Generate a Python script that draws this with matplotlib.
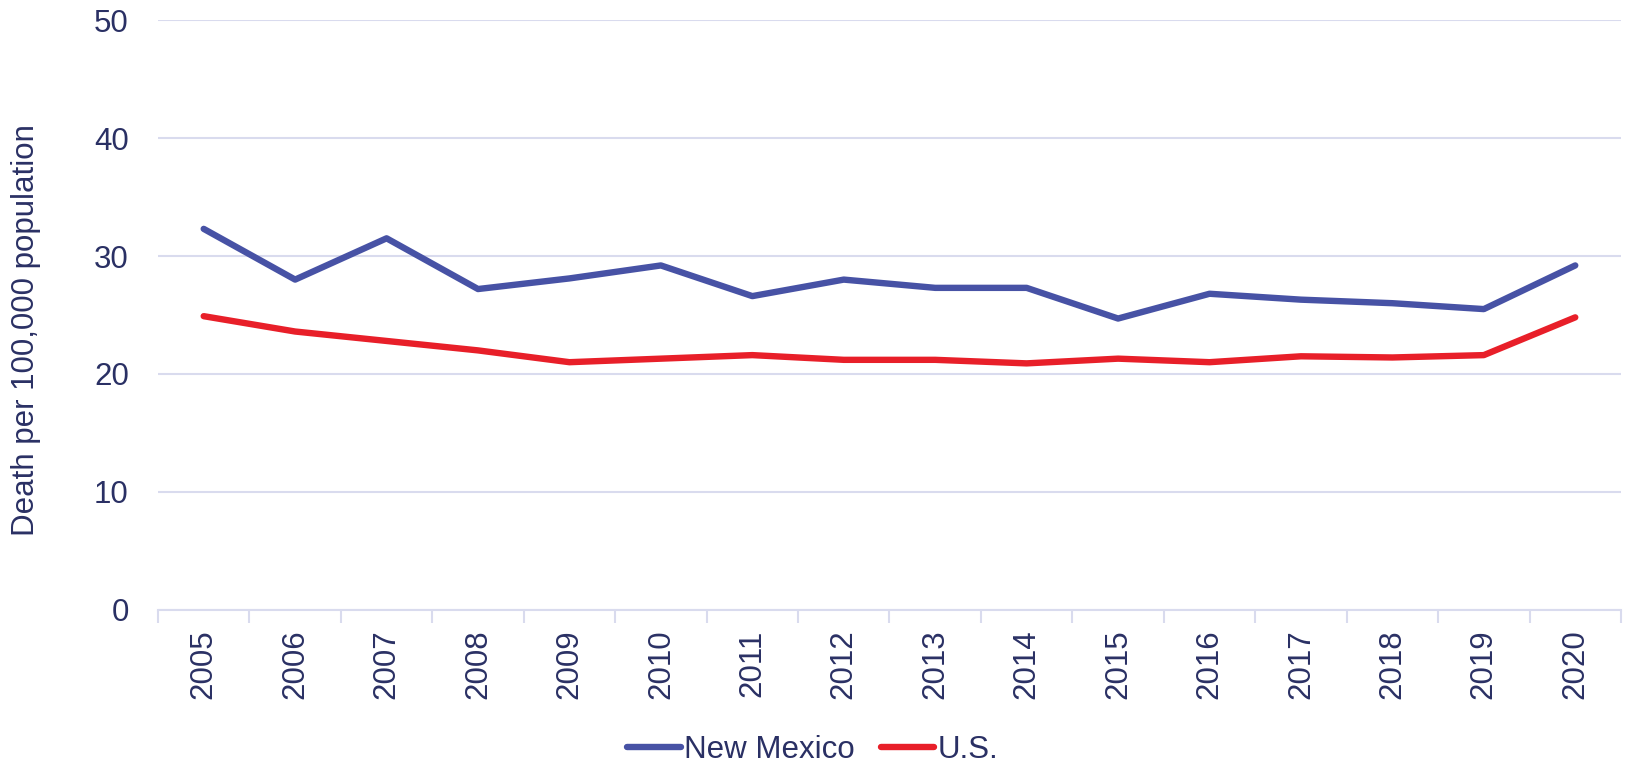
"""Death rate per 100,000 population: New Mexico vs U.S., 2005-2020."""

import matplotlib
matplotlib.use("Agg")
import matplotlib.pyplot as plt
import numpy as np

# ---------------------------------------------------------------------------
# Data
# ---------------------------------------------------------------------------

years = ["2005", "2006", "2007", "2008", "2009", "2010", "2011", "2012",
         "2013", "2014", "2015", "2016", "2017", "2018", "2019", "2020"]
new_mexico = [32.3, 28.0, 31.5, 27.2, 28.1, 29.2, 26.6, 28.0,
              27.3, 27.3, 24.7, 26.8, 26.3, 26.0, 25.5, 29.2]
us = [24.9, 23.6, 22.8, 22.0, 21.0, 21.3, 21.6, 21.2,
      21.2, 20.9, 21.3, 21.0, 21.5, 21.4, 21.6, 24.8]

BLUE = "#4752A5"
RED = "#E81F29"
TEXT = "#2A3064"
GRID = "#D9DBEE"
FS = 22.5

plt.rcParams["font.family"] = ["Liberation Sans", "DejaVu Sans"]

fig = plt.figure(figsize=(16.27, 7.64), dpi=100)
ax = fig.add_axes([0.0971, 0.2016, 0.8992, 0.7722])

x = np.arange(len(years))
ax.plot(x, new_mexico, color=BLUE, linewidth=4.6, solid_capstyle="round",
        label="New Mexico")
ax.plot(x, us, color=RED, linewidth=4.6, solid_capstyle="round", label="U.S.")

ax.set_xlim(-0.5, len(years) - 0.5)
ax.set_ylim(0, 50)
ax.set_yticks(range(0, 51, 10))
ax.grid(axis="y", color=GRID, linewidth=1.5)
ax.set_axisbelow(True)

for side in ("top", "right", "left"):
    ax.spines[side].set_visible(False)
ax.spines["bottom"].set_color(GRID)
ax.spines["bottom"].set_linewidth(1.5)

ax.set_xticks(x)
ax.set_xticklabels(years, rotation=90, fontsize=FS, color=TEXT)
ax.set_xticks(np.arange(-0.5, len(years), 1.0), minor=True)
ax.tick_params(axis="x", which="major", length=0, pad=14)
ax.tick_params(axis="x", which="minor", length=9, width=1.5, color=GRID)
ax.tick_params(axis="y", length=0, labelsize=FS, labelcolor=TEXT, pad=21)

ax.set_ylabel("Death per 100,000 population", fontsize=FS, color=TEXT)
ax.yaxis.set_label_coords(-0.080, 0.475)

handles, labels = ax.get_legend_handles_labels()
fig.legend(handles, labels, loc="center", bbox_to_anchor=(0.4995, 0.018),
           ncol=2, frameon=False, fontsize=FS, labelcolor=TEXT,
           handlelength=1.7, handletextpad=0.1, columnspacing=0.85)

fig.savefig("out.png", dpi=100)
